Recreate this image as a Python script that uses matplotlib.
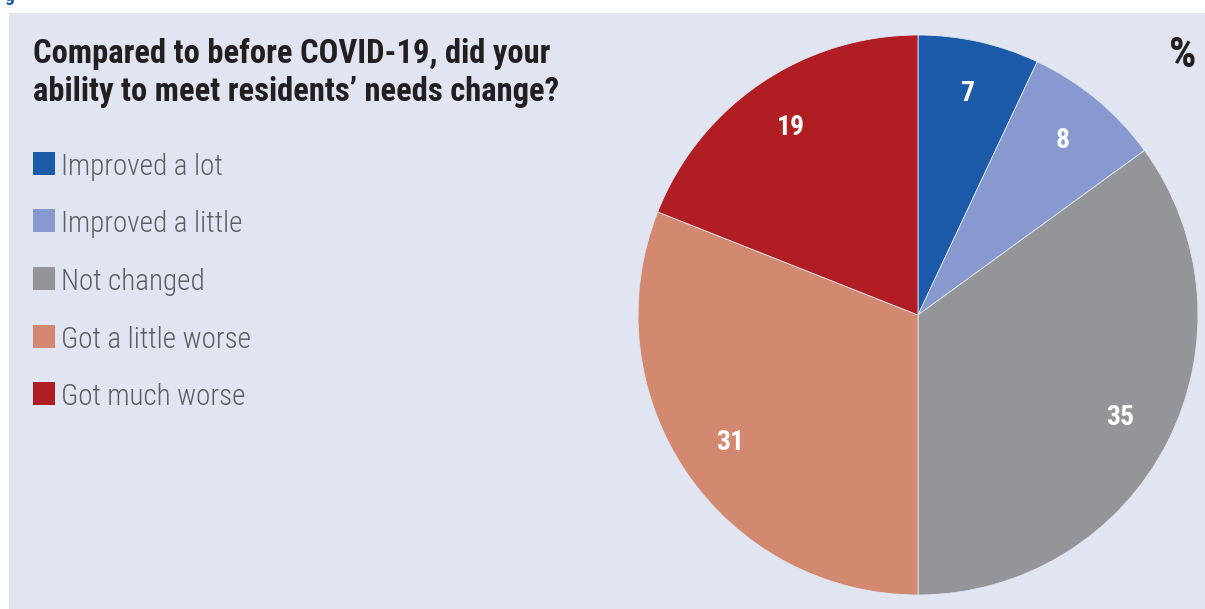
import numpy as np
import matplotlib.pyplot as plt
from matplotlib.patches import Rectangle

# survey answers, percent of respondents
labels = ["Improved a lot", "Improved a little", "Not changed",
          "Got a little worse", "Got much worse"]
values = [7, 8, 35, 31, 19]
colors = ["#1A5AA8", "#8799CE", "#949599", "#D38870", "#B01E24"]

title_lines = ["Compared to before COVID-19, did your",
               "ability to meet residents\u2019 needs change?"]

W, H = 1205, 609
bg = "#E1E5F1"
fam = ["Roboto Condensed", "DejaVu Sans"]


def fy(py):
    # pixel row from top -> figure fraction
    return 1 - py / H


fig = plt.figure(figsize=(W / 100, H / 100), dpi=100)
fig.patch.set_facecolor("white")

# shaded panel behind everything
fig.patches.append(Rectangle((9 / W, 0), 1, fy(13), transform=fig.transFigure,
                             facecolor=bg, edgecolor="none", zorder=-5))
# tail of the caption line above the panel
fig.text(4 / W, fy(1), "g", color="#1A5AA8", fontsize=14, fontweight="bold",
         family=fam, va="baseline")

for i, line in enumerate(title_lines):
    fig.text(33 / W, fy(63 + i * 38), line, fontsize=23.5, fontweight="bold",
             family=fam, color="#231F20", va="baseline")
fig.text(1196 / W, fy(67), "%", fontsize=31, fontweight="bold", family=fam,
         color="#231F20", va="baseline", ha="right")

# legend
for i, (lab, col) in enumerate(zip(labels, colors)):
    base = 175 + i * 57.5
    fig.patches.append(Rectangle((33 / W, fy(base)), 22 / W, 23 / H,
                                 transform=fig.transFigure, facecolor=col,
                                 edgecolor="none", zorder=2))
    fig.text(61 / W, fy(base), lab, fontsize=21, fontweight="light", family=fam,
             color="#5B5E63", va="baseline")

# pie
cx, cy, r = 918, 315, 280
ax = fig.add_axes([(cx - r) / W, fy(cy + r), 2 * r / W, 2 * r / H])
ax.set_facecolor("none")
wedges, texts = ax.pie(values, colors=colors, startangle=90, counterclock=False,
                       radius=1, wedgeprops=dict(linewidth=0.6, edgecolor=bg))
ax.set_xlim(-1, 1)
ax.set_ylim(-1, 1)
ax.set_aspect("equal")
ax.axis("off")

ang = 90 - np.cumsum([0] + values[:-1]) * 3.6 - np.array(values) * 1.8
for a, v in zip(ang, values):
    t = np.deg2rad(a)
    ax.text(0.81 * np.cos(t), 0.81 * np.sin(t), str(v), ha="center", va="center",
            color="white", fontsize=20, fontweight="bold", family=fam)

fig.savefig("out.png", dpi=100, facecolor=fig.get_facecolor())
